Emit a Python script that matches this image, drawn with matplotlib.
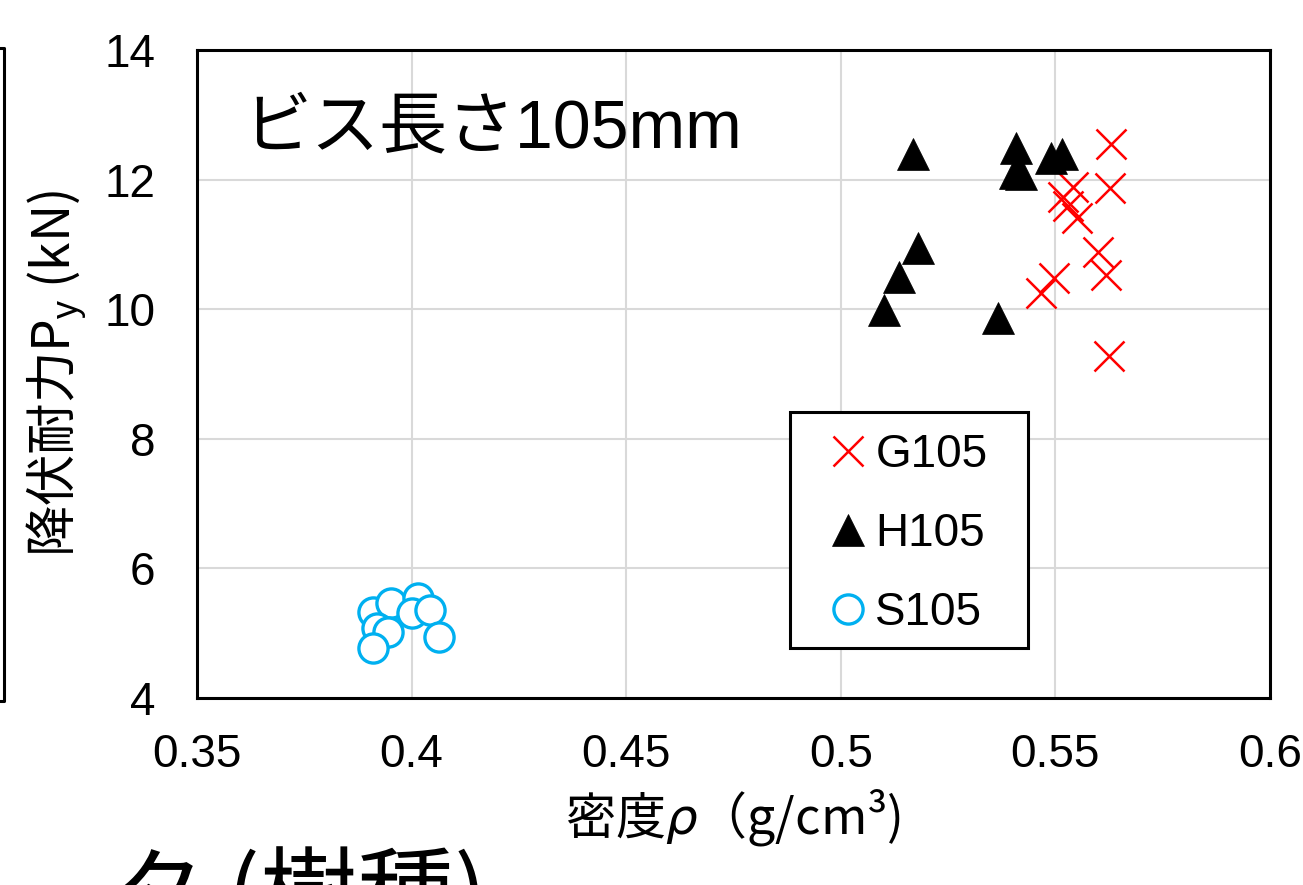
import matplotlib
matplotlib.use("Agg")
import matplotlib.pyplot as plt
from matplotlib.lines import Line2D
from matplotlib.patches import Rectangle

plt.rcParams['font.family'] = ['Liberation Sans', 'Noto Sans CJK JP']
plt.rcParams['mathtext.fontset'] = 'custom'
plt.rcParams['mathtext.rm'] = 'Liberation Sans'

# Density (g/cm3) and yield strength Py (kN) for each screw series
g105_density = [0.5630, 0.5627, 0.5541, 0.5518, 0.5530, 0.5550, 0.5599, 0.5618, 0.5497, 0.5466, 0.5625]
g105_py = [12.55, 11.87, 11.89, 11.73, 11.59, 11.41, 10.88, 10.53, 10.48, 10.25, 9.28]

h105_density = [0.5168, 0.5408, 0.5406, 0.5420, 0.5490, 0.5516, 0.5180, 0.5136, 0.5100, 0.5366]
h105_py = [12.39, 12.49, 12.10, 12.08, 12.33, 12.39, 10.94, 10.50, 9.99, 9.86]

s105_density = [0.3910, 0.3952, 0.4015, 0.4001, 0.4043, 0.3919, 0.3945, 0.3910, 0.4064]
s105_py = [5.33, 5.47, 5.54, 5.31, 5.36, 5.08, 5.02, 4.77, 4.94]

series_names = ['G105', 'H105', 'S105']
x_ticks = [0.35, 0.4, 0.45, 0.5, 0.55, 0.6]
x_tick_labels = ['0.35', '0.4', '0.45', '0.5', '0.55', '0.6']
y_ticks = [4, 6, 8, 10, 12, 14]

W, H = 1303, 885
fig = plt.figure(figsize=(W / 100, H / 100), dpi=100)
ax = fig.add_axes([197 / W, 1 - 698 / H, (1270 - 197) / W, (698 - 50) / H])


def ax_frac(px, py):
    """Pixel position on the canvas -> axes fraction."""
    return (px - 197) / 1073, 1 - (py - 50) / 648


ax.plot(g105_density, g105_py, linestyle='none', marker='x', markersize=22,
        markeredgewidth=1.8, color='#FF0000', label=series_names[0], zorder=3)
ax.plot(h105_density, h105_py, linestyle='none', marker='^', markersize=23,
        color='black', markeredgecolor='black', markeredgewidth=0.5,
        label=series_names[1], zorder=3)
ax.plot(s105_density, s105_py, linestyle='none', marker='o', markersize=21,
        markerfacecolor='white', markeredgecolor='#00B0F0', markeredgewidth=2.4,
        label=series_names[2], zorder=3)

ax.set_xlim(0.35, 0.6)
ax.set_ylim(4, 14)
ax.set_xticks(x_ticks)
ax.set_xticklabels(x_tick_labels)
ax.set_yticks(y_ticks)
ax.grid(True, color='#D9D9D9', linewidth=1.5, zorder=0)
ax.set_axisbelow(True)
ax.tick_params(axis='both', length=0, labelsize=33)
ax.tick_params(axis='y', pad=30)
ax.tick_params(axis='x', pad=25)
for sp in ax.spines.values():
    sp.set_linewidth(2.2)
    sp.set_color('black')

ax.set_ylabel(r'降伏耐力P$_{\mathrm{y}}$ (kN)', fontsize=37,
              fontfamily='Noto Sans CJK JP', va='center')
ax.yaxis.set_label_coords(-0.1305, 0.5)
ax.set_xlabel('密度$\\rho$（g/cm³)', fontsize=36, va='center',
              fontfamily='Noto Sans CJK JP')
ax.xaxis.set_label_coords(0.5, -0.185)

ax.text(0.043, 0.849, 'ビス長さ105mm', transform=ax.transAxes, fontsize=49,
        ha='left', va='baseline')

# legend entries, framed by a separate box
lx, ly = ax_frac(809, 412)
leg = ax.legend(loc='upper left', bbox_to_anchor=(lx, ly),
                fontsize=33, frameon=False, borderpad=0.45,
                handlelength=0.8, handletextpad=0.2, labelspacing=0.77,
                borderaxespad=0, markerscale=1.0)
bx0, by0 = ax_frac(790, 648)
bx1, by1 = ax_frac(1028, 412)
ax.add_patch(Rectangle((bx0, by0), bx1 - bx0, by1 - by0, transform=ax.transAxes,
                       facecolor='white', edgecolor='black', linewidth=2.2, zorder=4))
leg.set_zorder(5)

# partial frame of the neighbouring panel on the left
fig.add_artist(Line2D([0 / W, 4 / W, 4 / W, 0 / W],
                      [1 - 48 / H, 1 - 48 / H, 1 - 701 / H, 1 - 701 / H],
                      transform=fig.transFigure, color='black', linewidth=2.2))

# caption text running below the figure
fig.text(108 / W, 1 - 928 / H, 'タ (樹種)', fontsize=70,
         fontfamily='Noto Sans CJK JP', ha='left', va='baseline')

fig.savefig('out.png', dpi=100)
